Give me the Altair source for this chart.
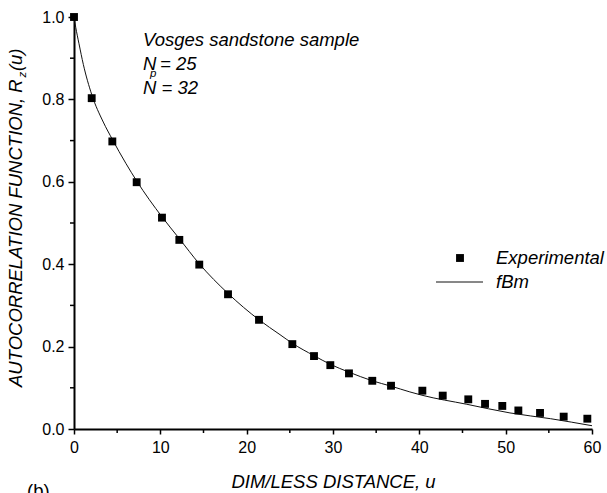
import altair as alt
import pandas as pd

# ---------------- data ----------------
u_exp = [0.0, 2.05, 4.44, 7.26, 10.19, 12.20, 14.51, 17.84, 21.43, 25.29, 27.80, 29.69,
         31.85, 34.55, 36.72, 40.35, 42.71, 45.67, 47.61, 49.61, 51.47, 53.98, 56.72, 59.46]
r_exp = [1.000, 0.803, 0.698, 0.599, 0.513, 0.459, 0.399, 0.327, 0.265, 0.206, 0.177, 0.155,
         0.135, 0.117, 0.105, 0.093, 0.081, 0.072, 0.061, 0.056, 0.045, 0.039, 0.030, 0.025]

u_fbm = [0.0, 0.2, 0.58, 1.08, 2.05, 3.39, 4.44, 6.0, 7.26, 10.19, 12.2, 14.51, 17.84, 21.43,
         23.86, 25.29, 27.8, 29.69, 31.85, 34.55, 36.72, 38.9, 40.3, 45.5, 50.5, 55.2, 60.0]
r_fbm = [1.0, 0.975, 0.935, 0.885, 0.812, 0.745, 0.703, 0.645, 0.602, 0.515, 0.462, 0.401, 0.329,
         0.265, 0.229, 0.208, 0.178, 0.157, 0.138, 0.117, 0.104, 0.090, 0.082, 0.060, 0.039,
         0.025, 0.008]

x_ticks = [0, 10, 20, 30, 40, 50, 60]
x_minor = [5, 15, 25, 35, 45, 55]
y_ticks = [0.0, 0.2, 0.4, 0.6, 0.8, 1.0]
y_minor = [0.1, 0.3, 0.5, 0.7, 0.9]

series_labels = ["Experimental", "fBm"]
annotation = ["Vosges sandstone sample", "N", "p", "= 25", "N = 32"]
y_title_parts = ["AUTOCORRELATION FUNCTION, R", "z", "(u)"]
x_title = "DIM/LESS DISTANCE, u"
panel_label = "(b)"

# ---------------- style ----------------
FONT = "Liberation Sans"
FS = 18.5
LFS = 16
W, H = 518, 412

exp_df = pd.DataFrame({"u": u_exp, "r": r_exp})
fbm_df = pd.DataFrame({"u": u_fbm, "r": r_fbm})

xs = alt.Scale(domain=[0, 60], nice=False, zero=False)
ys = alt.Scale(domain=[0, 1], nice=False)

x_axis = alt.Axis(values=x_ticks, format="d", title=x_title, titleFont=FONT, titleFontSize=FS,
                  titleFontStyle="italic", titleFontWeight="normal", titleColor="black",
                  titleY=58, titleBaseline="alphabetic",
                  labelFont=FONT, labelFontSize=LFS, labelColor="black", labelPadding=5,
                  tickSize=5, tickColor="black", tickWidth=1.5, domainColor="black",
                  domainWidth=2, grid=False, labelFlush=False)
y_axis = alt.Axis(values=y_ticks, format=".1f", title=None,
                  labelFont=FONT, labelFontSize=LFS, labelColor="black", labelPadding=4,
                  tickSize=6, tickColor="black", tickWidth=1.5, domainColor="black",
                  domainWidth=2, grid=False, labelFlush=False)

X = alt.X("u:Q", scale=xs, axis=x_axis)
Y = alt.Y("r:Q", scale=ys, axis=y_axis)

curve = alt.Chart(fbm_df).mark_line(color="#111111", strokeWidth=1, interpolate="monotone").encode(x=X, y=Y)
points = alt.Chart(exp_df).mark_point(shape="square", filled=True, size=62, color="black", opacity=1).encode(x=X, y=Y)

ymin = alt.Chart(pd.DataFrame({"r": y_minor})).mark_rule(color="black", strokeWidth=1.5).encode(
    y=Y, x=alt.value(-4), x2=alt.value(0))
xmin = alt.Chart(pd.DataFrame({"u": x_minor})).mark_rule(color="black", strokeWidth=1.5).encode(
    x=X, y=alt.value(H), y2=alt.value(H + 4))


def txt(s, x, y, size=FS, style="italic", angle=0, align="left"):
    kw = dict(font=FONT, fontSize=size, fontStyle=style, color="black", align=align,
              baseline="alphabetic")
    if angle:
        kw["angle"] = angle
    return alt.Chart(pd.DataFrame({"t": [s]})).mark_text(**kw).encode(
        x=alt.value(x), y=alt.value(y), text="t:N")


# y-axis title with subscript
part1_len = 16.723 * FS
y0 = 370
ytitle = [
    txt(y_title_parts[0], -52, y0, angle=270),
    txt(y_title_parts[1], -48, y0 - part1_len, size=11.5, angle=270),
    txt(y_title_parts[2], -52, y0 - part1_len - 6.5, angle=270),
]

annot = [
    txt(annotation[0], 69, 29),
    txt(annotation[1], 69, 53),
    txt(annotation[2], 76, 60, size=11.5),
    txt(annotation[3], 86, 53),
    txt(annotation[4], 69, 77),
]

leg_square = alt.Chart(pd.DataFrame({"t": [series_labels[0]]})).mark_point(
    shape="square", filled=True, size=62, color="black", opacity=1).encode(
    x=alt.value(386), y=alt.value(241))
leg_line = alt.Chart(pd.DataFrame({"t": [series_labels[1]]})).mark_rule(
    color="#111111", strokeWidth=1).encode(x=alt.value(362), x2=alt.value(409), y=alt.value(265))
legend = [leg_square, leg_line,
          txt(series_labels[0], 422, 247),
          txt(series_labels[1], 422, 271)]

panel = txt(panel_label, -47, 480, style="normal")

chart = alt.layer(curve, points, ymin, xmin, *ytitle, *annot, *legend, panel).properties(
    width=W, height=H,
    autosize=alt.AutoSizeParams(type="none"),
    padding={"left": 74, "top": 17, "right": 15, "bottom": 493 - 17 - H},
    background="white",
).configure_view(stroke=None)

chart.save("out.html", embed_options={"renderer": "svg", "actions": False})
